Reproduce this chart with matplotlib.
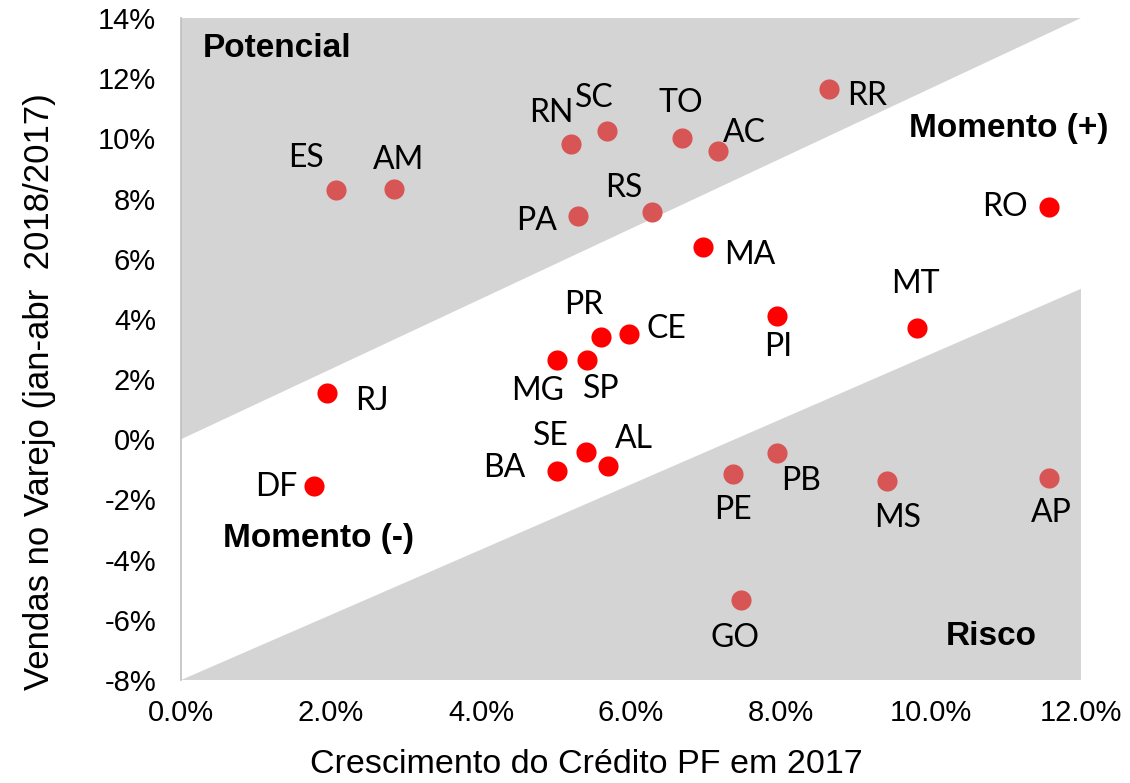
import matplotlib
matplotlib.use("Agg")
import matplotlib.pyplot as plt

# Dados (crescimento do crédito PF em 2017 x vendas no varejo jan-abr 2018/2017), em %
estados = ["ES", "AM", "RN", "SC", "TO", "AC", "RR", "PA", "RS", "MA", "RO", "PR", "CE", "PI",
           "MT", "MG", "SP", "RJ", "SE", "BA", "AL", "DF", "PE", "PB", "MS", "AP", "GO"]
credito = [2.07, 2.84, 5.20, 5.68, 6.68, 7.16, 8.64, 5.29, 6.28, 6.96, 11.57, 5.60, 5.97, 7.95,
           9.81, 5.01, 5.41, 1.95, 5.40, 5.01, 5.69, 1.77, 7.36, 7.95, 9.41, 11.57, 7.47]
vendas = [8.27, 8.31, 9.80, 10.23, 10.00, 9.57, 11.63, 7.41, 7.57, 6.38, 7.71, 3.39, 3.49, 4.09,
          3.69, 2.62, 2.62, 1.53, -0.43, -1.06, -0.90, -1.56, -1.16, -0.47, -1.40, -1.30, -5.35]

x_ticks = [0, 2, 4, 6, 8, 10, 12]
y_ticks = [-8, -6, -4, -2, 0, 2, 4, 6, 8, 10, 12, 14]

# limites das faixas (reta superior e inferior)
sup = (0, 14)
inf = (-8, 5)

# posição dos rótulos em pixels em relação ao ponto
offsets = {
    "ES": (-30, 32), "AM": (5, 29), "RN": (-20, 31), "SC": (-13, 33), "TO": (-1, 35),
    "AC": (26, 18), "RR": (38, -7), "PA": (-41, -5), "RS": (-28, 24), "MA": (47, -8),
    "RO": (-44, 0), "PR": (-17, 32), "CE": (38, 5), "PI": (1, -31), "MT": (-1, 44),
    "MG": (-19, -31), "SP": (15, -29), "RJ": (45, -8), "SE": (-35, 16), "BA": (-52, 3),
    "AL": (26, 27), "DF": (-38, -1), "PE": (0, -36), "PB": (24, -28), "MS": (11, -37),
    "AP": (3, -35), "GO": (-6, -38),
}

fig = plt.figure(figsize=(11.3, 7.83), dpi=100)
ax = fig.add_axes([0.1602, 0.1315, 0.7964, 0.8455])

cinza = "#D4D4D4"
xmax = x_ticks[-1]
ymin, ymax = y_ticks[0], y_ticks[-1]
ax.fill([0, xmax, 0], [sup[0], sup[1], ymax], color=cinza, lw=0, zorder=1)
ax.fill([0, xmax, xmax], [inf[0], inf[1], ymin], color=cinza, lw=0, zorder=1)

for est, x, y in zip(estados, credito, vendas):
    linha_sup = sup[0] + (sup[1] - sup[0]) * x / xmax
    linha_inf = inf[0] + (inf[1] - inf[0]) * x / xmax
    cor = "#FF0000" if linha_inf < y < linha_sup else "#D75555"
    ax.scatter(x, y, s=210, color=cor, lw=0, zorder=3)
    dx, dy = offsets[est]
    ax.annotate(est, (x, y), xytext=(dx, dy), textcoords="offset pixels",
                ha="center", va="center", fontsize=23, family="Lato", zorder=4)

bold = dict(fontsize=24, fontweight="bold", family="Liberation Sans", ha="center", va="center")
ax.text(1.28, 12.99, "Potencial", **bold)
ax.text(11.03, 10.33, "Momento (+)", **bold)
ax.text(1.83, -3.29, "Momento (-)", **bold)
ax.text(10.81, -6.54, "Risco", **bold)

ax.set_xlim(0, xmax)
ax.set_ylim(ymin, ymax)
ax.set_xticks(x_ticks)
ax.set_xticklabels([f"{t:.1f}%" for t in x_ticks])
ax.set_yticks(y_ticks)
ax.set_yticklabels([f"{t}%" for t in y_ticks])
ax.tick_params(length=0, labelsize=21)
ax.tick_params(axis="y", pad=18)
ax.tick_params(axis="x", pad=14)
for lab in ax.get_xticklabels() + ax.get_yticklabels():
    lab.set_family("Liberation Sans")

for s in ["top", "right", "bottom"]:
    ax.spines[s].set_visible(False)
ax.spines["left"].set_color("#BFBFBF")
ax.spines["left"].set_linewidth(1.2)

ax.set_xlabel("Crescimento do Crédito PF em 2017", fontsize=24.5, family="Liberation Sans")
ax.set_ylabel("Vendas no Varejo (jan-abr  2018/2017)", fontsize=25, family="Liberation Sans")
ax.xaxis.set_label_coords(0.45, -0.104)
ax.yaxis.set_label_coords(-0.139, 0.435)

fig.savefig("out.png", dpi=100)
